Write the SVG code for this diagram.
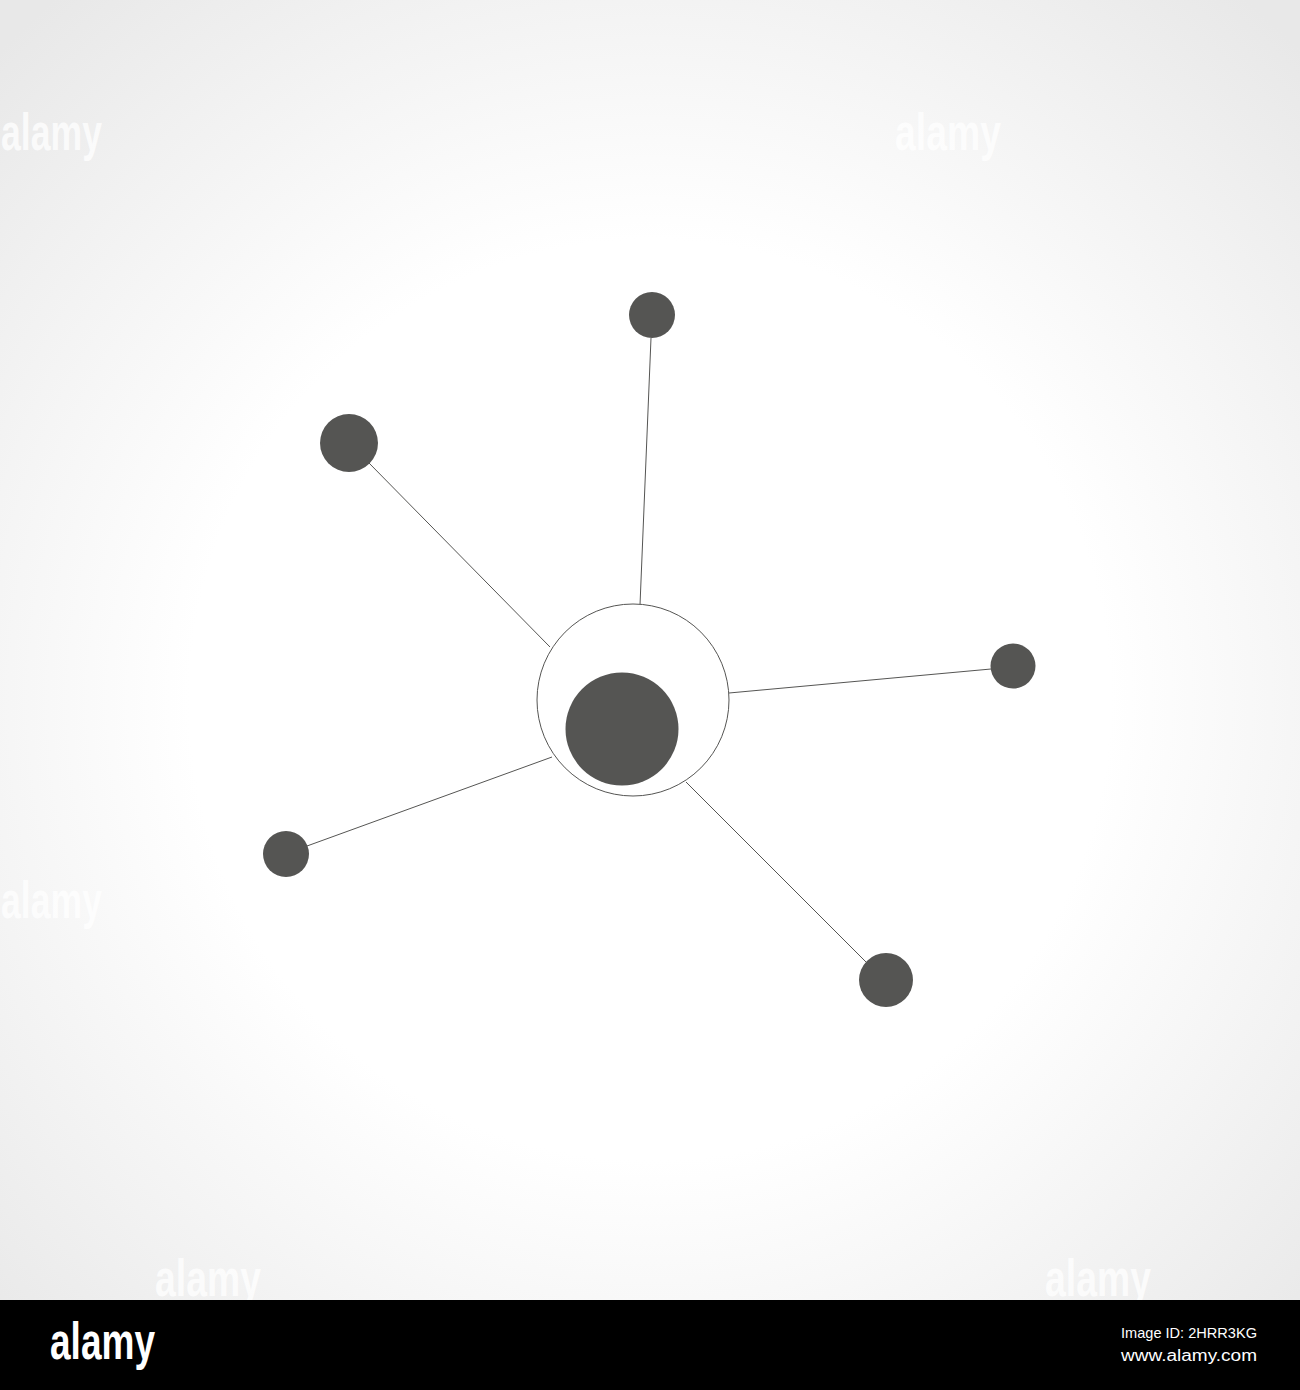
<svg xmlns="http://www.w3.org/2000/svg" width="1300" height="1390" viewBox="0 0 1300 1390">
<defs>
<radialGradient id="bg" cx="650" cy="700" r="920" gradientUnits="userSpaceOnUse">
<stop offset="0" stop-color="#ffffff"/>
<stop offset="0.5" stop-color="#ffffff"/>
<stop offset="1" stop-color="#e8e8e8"/>
</radialGradient>
</defs>
<style>
.sat{fill:#555553}
.link{stroke:#555553;stroke-width:1;fill:none}
.wm{font-family:"Liberation Sans",sans-serif;font-weight:bold;fill:#ffffff;opacity:0.75}
.logo{font-family:"Liberation Sans",sans-serif;font-weight:bold;fill:#ffffff}
.id{font-family:"Liberation Sans",sans-serif;fill:#ffffff}
</style>
<rect x="0" y="0" width="1300" height="1300" fill="url(#bg)"/>
<g id="watermarks">
<text class="wm" x="1" y="150" font-size="52" textLength="101" lengthAdjust="spacingAndGlyphs">alamy</text>
<text class="wm" x="895" y="150" font-size="52" textLength="106" lengthAdjust="spacingAndGlyphs">alamy</text>
<text class="wm" x="1" y="918" font-size="52" textLength="101" lengthAdjust="spacingAndGlyphs">alamy</text>
<text class="wm" x="155" y="1296" font-size="52" textLength="106" lengthAdjust="spacingAndGlyphs">alamy</text>
<text class="wm" x="1045" y="1296" font-size="52" textLength="106" lengthAdjust="spacingAndGlyphs">alamy</text>
</g>
<g id="connectors">
<line class="link" x1="640" y1="605" x2="651" y2="338"/>
<line class="link" x1="368" y1="462" x2="550" y2="647"/>
<line class="link" x1="729" y1="693" x2="991" y2="669"/>
<line class="link" x1="307" y1="846" x2="552" y2="757"/>
<line class="link" x1="686" y1="782" x2="866" y2="962"/>
</g>
<g id="hub">
<circle cx="633" cy="700" r="96" fill="#ffffff" stroke="#555553" stroke-width="1"/>
<circle class="sat" cx="622" cy="729" r="56.5"/>
</g>
<g id="node-top"><circle class="sat" cx="652" cy="315" r="23"/></g>
<g id="node-upper-left"><circle class="sat" cx="349" cy="443" r="29"/></g>
<g id="node-right"><circle class="sat" cx="1013" cy="666" r="22.5"/></g>
<g id="node-left"><circle class="sat" cx="286" cy="854" r="23"/></g>
<g id="node-bottom-right"><circle class="sat" cx="886" cy="980" r="27"/></g>
<g id="footer">
<rect x="0" y="1300" width="1300" height="90" fill="#000000"/>
<text class="logo" x="50" y="1359" font-size="52" textLength="105" lengthAdjust="spacingAndGlyphs">alamy</text>
<text class="id" x="1121" y="1338" font-size="15" textLength="136" lengthAdjust="spacingAndGlyphs">Image ID: 2HRR3KG</text>
<text class="id" x="1121" y="1361" font-size="16" textLength="136" lengthAdjust="spacingAndGlyphs">www.alamy.com</text>
</g>
</svg>
